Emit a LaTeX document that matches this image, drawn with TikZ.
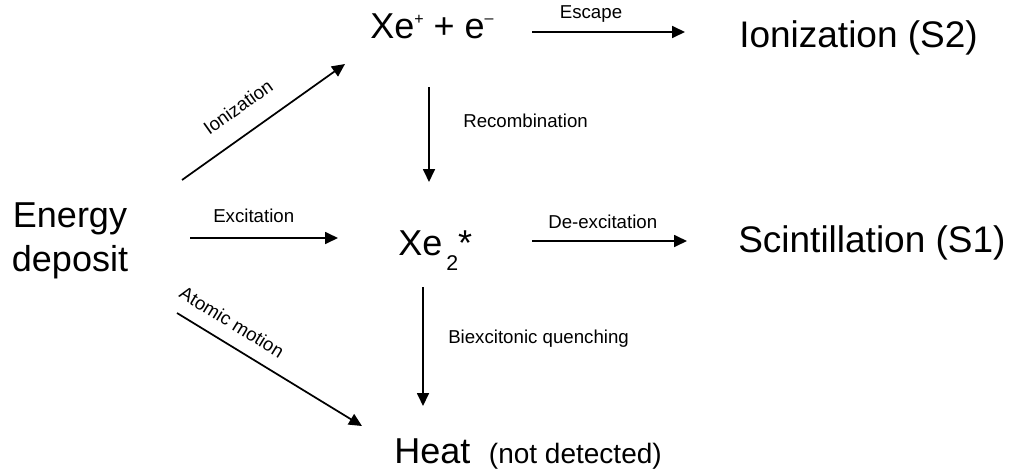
\documentclass[tikz,border=0pt]{standalone}
\usepackage{fontspec}
\setmainfont{Liberation Sans}
\usetikzlibrary{arrows.meta,calc}
\tikzset{
  big/.style={font=\fontsize{27pt}{33pt}\selectfont, inner sep=0pt, anchor=base west},
  bigr/.style={big, font=\fontsize{27.75pt}{33pt}\selectfont},
  lab/.style={font=\fontsize{14pt}{17pt}\selectfont, inner sep=0pt, anchor=base west},
  arr/.style={line width=1.3pt, -{Triangle[length=9.75pt,width=9pt]}},
}
\begin{document}
\begin{tikzpicture}[x=0.75pt,y=-0.75pt]
\useasboundingbox (0,0) rectangle (1009,471);
% main nodes
\node[big, anchor=center, align=center] (ed) at (70,241) {Energy\\deposit};
\node[big] (xep) at (370,38) {Xe\raisebox{10.3pt}{\fontsize{12pt}{12pt}\selectfont +} + e\raisebox{11pt}{\fontsize{12pt}{12pt}\selectfont –}};
\node[bigr] (ion) at (739,47) {Ionization (S2)};
\node[big] (xe2) at (398,255) {Xe\hspace{3pt}\raisebox{-11.25pt}{\fontsize{16pt}{16pt}\selectfont 2}*};
\node[bigr] (sc) at (738,252) {Scintillation (S1)};
\node[big] (heat) at (394,463) {Heat\hspace{14pt}{\fontsize{21pt}{25pt}\selectfont (not detected)}};
% connectors
\draw[arr] ($(ed.center)+(112,-61)$) -- ($(xep.base west)+(-25,26)$);
\draw[arr] ($(xep.base west)+(162,-6)$) -- ($(ion.base west)+(-54,-15)$);
\draw[arr] ($(xep.base west)+(59,49)$) -- ($(xe2.base west)+(31,-73)$);
\draw[arr] ($(ed.center)+(120,-3)$) -- ($(xe2.base west)+(-60,-17)$);
\draw[arr] ($(xe2.base west)+(134,-14)$) -- ($(sc.base west)+(-51,-11)$);
\draw[arr] ($(xe2.base west)+(25,32)$) -- ($(heat.base west)+(29,-57)$);
\draw[arr] ($(ed.center)+(107,72)$) -- ($(heat.base west)+(-32,-37)$);
% labels
\node[lab, anchor=center, rotate=35.4] (l1) at (238,107) {Ionization};
\node[lab, anchor=base] (l2) at (591,18) {Escape};
\node[lab] (l3) at (463,127) {Recombination};
\node[lab] (l4) at (213,222) {Excitation};
\node[lab] (l5) at (548,228) {De-excitation};
\node[lab] (l6) at (448,343) {Biexcitonic quenching};
\node[lab, anchor=center, rotate=-31.5] (l7) at (232,322) {Atomic motion};
\end{tikzpicture}
\end{document}
